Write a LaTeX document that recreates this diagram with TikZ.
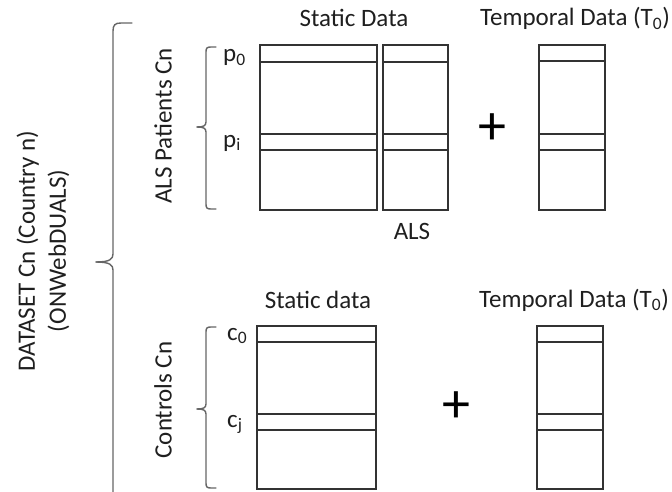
\documentclass[tikz,border=0pt]{standalone}
\usepackage{fontspec}
\setmainfont{Carlito}
\begin{document}
\begin{tikzpicture}[x=1pt,y=-1pt,
  lbl/.style={font=\fontsize{25}{31}\selectfont, text=black!88, inner sep=0pt},
  plus/.style={font=\fontsize{56}{60}\selectfont, text=black, inner sep=0pt},
  tbl/.style={draw=black!80, line width=1.1pt},
  brace/.style={draw=black!60, line width=1.4pt, line cap=round}]
\useasboundingbox (0,0) rectangle (672,492);
\clip (0,0) rectangle (672,492);

% ---------- ALS patients ----------
% static data, two column blocks
\draw[tbl] (260,45) rectangle (377,210);
\draw[tbl] (383,45) rectangle (448,210);
\foreach \r in {62,134,150} {
  \draw[tbl] (260,\r) -- (377,\r);
  \draw[tbl] (383,\r) -- (448,\r);
}
% temporal data block
\draw[tbl] (539,45) rectangle (605,210);
\foreach \r in {61,134,150}
  \draw[tbl] (539,\r) -- (605,\r);

\node[lbl, anchor=base] (sdA) at (354,27) {Static Data};
\node[lbl, anchor=base] (tdA) at (575,26) {Temporal Data (T\textsubscript{0})};
\node[lbl, anchor=base] (als) at (412,239) {ALS};
\node[lbl, anchor=base west] (p0) at (223,62) {p\textsubscript{0}};
\node[lbl, anchor=base west] (pi) at (223,147) {p\textsubscript{i}};
\node[plus] (plusA) at (492,129) {+};
\node[lbl, rotate=90] (alsCn) at (163,126) {ALS Patients Cn};

% patients brace
\draw[brace] (216,47) -- (211,47) .. controls (207,47) and (206,48) .. (206,52)
  -- (206,122) .. controls (206,126) and (203,127) .. (197,127);
\draw[brace] (197,127) .. controls (203,127) and (206,128) .. (206,132)
  -- (206,204) .. controls (206,208) and (207,209) .. (211,209) -- (216,209);

% ---------- Controls ----------
\draw[tbl] (257,326) rectangle (376,489);
\foreach \r in {342,414,430}
  \draw[tbl] (257,\r) -- (376,\r);
\draw[tbl] (537,326) rectangle (603,489);
\foreach \r in {342,414,430}
  \draw[tbl] (537,\r) -- (603,\r);

\node[lbl, anchor=base] (sdB) at (318,308) {Static data};
\node[lbl, anchor=base] (tdB) at (574,307) {Temporal Data (T\textsubscript{0})};
\node[lbl, anchor=base west] (c0) at (227,340) {c\textsubscript{0}};
\node[lbl, anchor=base west] (cj) at (227,427) {c\textsubscript{j}};
\node[plus] (plusB) at (456,407) {+};
\node[lbl, rotate=90] (ctrlCn) at (163,400) {Controls Cn};

% controls brace
\draw[brace] (216,327) -- (211,327) .. controls (207,327) and (206,328) .. (206,332)
  -- (206,404) .. controls (206,408) and (203,409) .. (197,409);
\draw[brace] (197,409) .. controls (203,409) and (206,410) .. (206,414)
  -- (206,483) .. controls (206,487) and (207,488) .. (211,488) -- (216,488);

% ---------- whole dataset ----------
\node[lbl, rotate=90, align=center] (dataset) at (43,251)
  {DATASET Cn (Country n)\\(ONWebDUALS)};
\draw[brace] (132,23) -- (121,23) .. controls (115,23) and (113,25) .. (113,31)
  -- (113,254) .. controls (113,259) and (110,262) .. (96,262);
\draw[brace] (96,262) .. controls (110,262) and (113,265) .. (113,270)
  -- (113,510);
\end{tikzpicture}
\end{document}
